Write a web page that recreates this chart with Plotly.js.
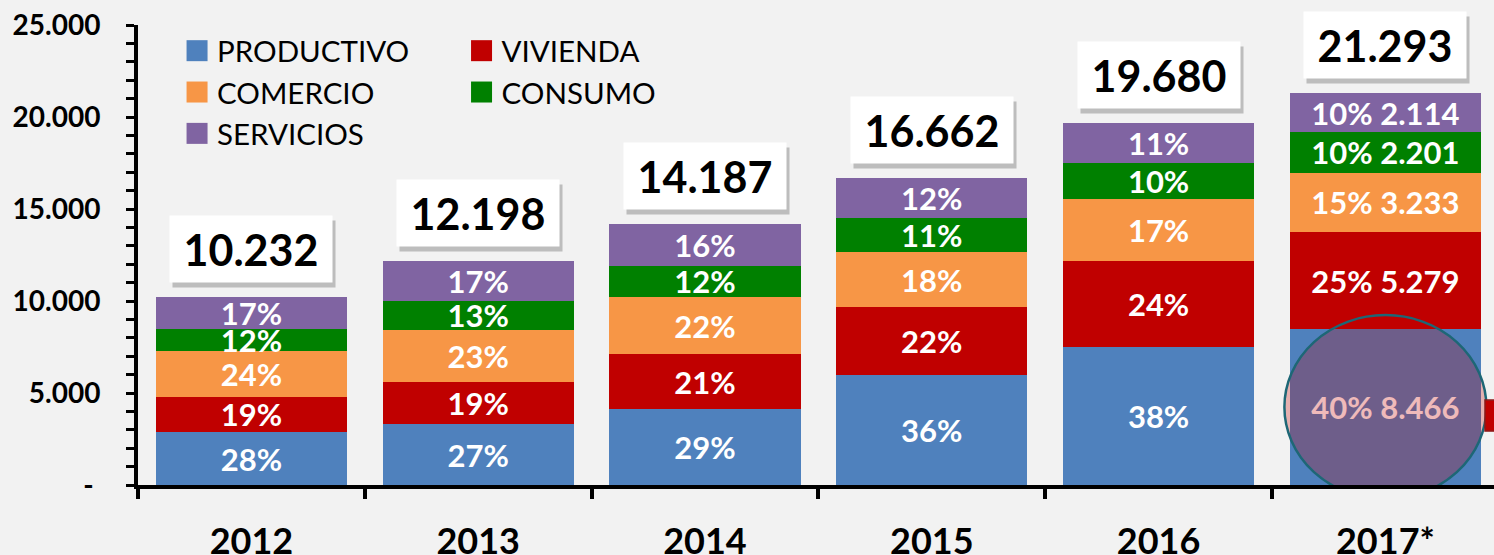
<!DOCTYPE html>
<html>
<head>
<meta charset="utf-8">
<script src="https://cdn.plot.ly/plotly-3.0.1.min.js"></script>
<style>
  html, body { margin: 0; padding: 0; background: #F2F2F2; }
  #chart { width: 1494px; height: 555px; }
  /* larger legend swatches (about 21px squares), placed just left of the labels */
  #chart .legendpoints path {
    transform-box: fill-box;
    transform-origin: center;
    transform: translate(20px, 0) scale(1.75);
  }
  #chart .infolayer [clip-path] { clip-path: none !important; }
</style>
</head>
<body>
<div id="chart"></div>
<script>
// ---- data ----
const years = ['2012', '2013', '2014', '2015', '2016', '2017*'];
const productivo = [2865, 3300, 4115, 5998, 7478, 8466];
const vivienda   = [1944, 2320, 2979, 3666, 4723, 5279];
const comercio   = [2456, 2810, 3121, 2999, 3346, 3233];
const consumo    = [1228, 1590, 1702, 1833, 1968, 2201];
const servicios  = [1739, 2178, 2270, 2166, 2165, 2114];

const pctProductivo = ['28%', '27%', '29%', '36%', '38%', '40%'];
const pctVivienda   = ['19%', '19%', '21%', '22%', '24%', '25%'];
const pctComercio   = ['24%', '23%', '22%', '18%', '17%', '15%'];
const pctConsumo    = ['12%', '13%', '12%', '11%', '10%', '10%'];
const pctServicios  = ['17%', '17%', '16%', '12%', '11%', '10%'];

const seriesNames  = ['PRODUCTIVO', 'VIVIENDA', 'COMERCIO', 'CONSUMO', 'SERVICIOS'];
const seriesColors = ['#4F81BD', '#C00000', '#F79646', '#008000', '#8064A2'];

const yTickVals = [0, 5000, 10000, 15000, 20000, 25000];

// ---- helpers ----
function fmt(n) { return String(n).replace(/\B(?=(\d{3})+(?!\d))/g, '.'); }
function labels(pcts, vals) {
  return pcts.map((p, i) => i === years.length - 1 ? p + ' ' + fmt(vals[i]) : p);
}
const totals = years.map((_, i) => productivo[i] + vivienda[i] + comercio[i] + consumo[i] + servicios[i]);

const FONT = 'Lato, "Open Sans", sans-serif';

function barTrace(name, vals, pcts, color, legendId) {
  return {
    type: 'bar', name: name, x: years, y: vals,
    marker: { color: color },
    text: labels(pcts, vals),
    textposition: 'inside', insidetextanchor: 'middle',
    textangle: 0, constraintext: 'none',
    textfont: { family: FONT, size: 31, color: 'white', weight: 'bold' },
    hoverinfo: 'x+y+name',
    legend: legendId
  };
}

const data = [
  barTrace(seriesNames[0], productivo, pctProductivo, seriesColors[0], 'legend'),
  barTrace(seriesNames[1], vivienda, pctVivienda, seriesColors[1], 'legend2'),
  barTrace(seriesNames[2], comercio, pctComercio, seriesColors[2], 'legend'),
  barTrace(seriesNames[3], consumo, pctConsumo, seriesColors[3], 'legend2'),
  barTrace(seriesNames[4], servicios, pctServicios, seriesColors[4], 'legend')
];

// total boxes (shadow + box); x given as category index
const annotations = [];
years.forEach((yr, i) => {
  annotations.push({
    x: i, y: totals[i], xref: 'x', yref: 'y', yanchor: 'bottom',
    showarrow: false, text: ' ', width: 162, height: 66, borderpad: 0,
    bgcolor: 'rgba(0,0,0,0.22)', xshift: 3, yshift: 9
  });
});
years.forEach((yr, i) => {
  annotations.push({
    x: i, y: totals[i], xref: 'x', yref: 'y', yanchor: 'bottom',
    showarrow: false, text: fmt(totals[i]), width: 162, height: 66, borderpad: 0,
    bgcolor: 'white', valign: 'middle', yshift: 14,
    font: { family: FONT, size: 43, color: 'black', weight: 'bold' }
  });
});

const last = years.length - 1;
const shapes = [
  {
    type: 'circle', layer: 'above',
    xref: 'x', xsizemode: 'pixel', xanchor: last, x0: -101, x1: 101,
    yref: 'y', ysizemode: 'pixel', yanchor: productivo[last] / 2, y0: -92, y1: 92,
    fillcolor: 'rgba(195,0,0,0.27)',
    line: { color: '#1D6776', width: 2.5 }
  },
  {
    type: 'rect', layer: 'above',
    xref: 'paper', xsizemode: 'pixel', xanchor: 1, x0: -9, x1: 4,
    yref: 'y', ysizemode: 'pixel', yanchor: productivo[last] / 2, y0: -24, y1: 7,
    fillcolor: '#C00000', line: { color: '#8B1A1A', width: 1.5 }
  }
];

const catSpacing = 226.8;
const plotW = 1494 - 138;

const layout = {
  width: 1494, height: 555,
  margin: { l: 138, r: 0, t: 25, b: 70 },
  paper_bgcolor: '#F2F2F2', plot_bgcolor: '#F2F2F2',
  barmode: 'stack', bargap: 0.157,
  showlegend: true,
  font: { family: FONT, color: 'black' },
  xaxis: {
    type: 'category',
    range: [-0.5, -0.5 + plotW / catSpacing],
    showline: true, linecolor: 'black', linewidth: 4,
    ticks: 'outside', tickson: 'boundaries', ticklen: 10, tickwidth: 4, tickcolor: 'black',
    tickfont: { family: FONT, size: 36, color: 'black', weight: 'bold' },
    ticklabelstandoff: 22,
    showgrid: false, zeroline: false, fixedrange: true
  },
  yaxis: {
    range: [0, 25000],
    tickvals: yTickVals,
    ticktext: yTickVals.map(v => v === 0 ? '-\u00a0' : fmt(v)),
    showline: true, linecolor: 'black', linewidth: 4,
    ticks: 'outside', ticklen: 8, tickwidth: 3, tickcolor: 'black',
    minor: { dtick: 1000, ticks: 'outside', ticklen: 8, tickwidth: 3, tickcolor: 'black', showgrid: false },
    tickfont: { family: FONT, size: 28, color: 'black', weight: 'bold' },
    ticklabelstandoff: 20,
    showgrid: false, zeroline: false, fixedrange: true
  },
  legend: {
    x: 0.0288, y: 1.0, xanchor: 'left', yanchor: 'top', orientation: 'v',
    traceorder: 'normal', bgcolor: 'rgba(0,0,0,0)',
    font: { family: FONT, size: 29.5, color: 'black' }
  },
  legend2: {
    x: 0.2386, y: 1.0, xanchor: 'left', yanchor: 'top', orientation: 'v',
    traceorder: 'normal', bgcolor: 'rgba(0,0,0,0)',
    font: { family: FONT, size: 29.5, color: 'black' }
  },
  annotations: annotations,
  shapes: shapes
};

Plotly.newPlot('chart', data, layout, { displayModeBar: false, staticPlot: true });
</script>
</body>
</html>
